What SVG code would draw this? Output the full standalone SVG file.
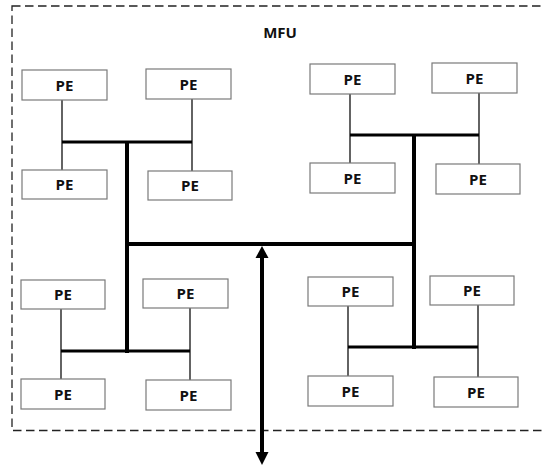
<svg xmlns="http://www.w3.org/2000/svg" width="542" height="466" viewBox="0 0 542 466">
<style>
.pe rect{fill:#fff;stroke:#7a7a7a;stroke-width:1.2}
.pe text{font-family:"Open Sans",Lato,"Liberation Sans",sans-serif;font-weight:700;font-size:15px;fill:#111;text-anchor:middle}
.thin{stroke:#111;stroke-width:1.3;fill:none}
.bus{stroke:#000;stroke-width:3;fill:none}
.trunk{stroke:#000;stroke-width:4;fill:none}
</style>
<rect width="542" height="466" fill="#fff"/>
<g id="mfu">
<rect x="12" y="6" width="540" height="424.5" fill="none" stroke="#222" stroke-width="1.3" stroke-dasharray="8.5 4.5"/>
<text x="280" y="37.5" font-family="'Open Sans',Lato,'Liberation Sans',sans-serif" font-weight="700" font-size="15" fill="#111" text-anchor="middle">MFU</text>
</g>
<g id="connectors">
<path class="thin" d="M62 100V170M192 99V171M350 94V163M479 93V164M61 309V379M190 308V380M348 306V376M478 305V377"/>
<path class="bus" d="M62 142H192M350 135H479M61 351H190M348 347H478"/>
<path class="trunk" d="M127 142V353M414 135V349M125 244H416"/>
<path class="trunk" d="M262 256V454"/>
<polygon points="262,246 268.5,258 255.5,258" fill="#000"/>
<polygon points="262,465 268.5,452 255.5,452" fill="#000"/>
</g>
<g id="pe1" class="pe"><rect x="22" y="70" width="85" height="30"/><text x="64.5" y="90.5">PE</text></g>
<g id="pe2" class="pe"><rect x="146" y="69" width="85" height="30"/><text x="188.5" y="89.5">PE</text></g>
<g id="pe3" class="pe"><rect x="22" y="170" width="85" height="29"/><text x="64.5" y="190">PE</text></g>
<g id="pe4" class="pe"><rect x="148" y="171" width="84" height="29"/><text x="190" y="191">PE</text></g>
<g id="pe5" class="pe"><rect x="310" y="64" width="85" height="30"/><text x="352.5" y="84.5">PE</text></g>
<g id="pe6" class="pe"><rect x="432" y="63" width="85" height="30"/><text x="474.5" y="83.5">PE</text></g>
<g id="pe7" class="pe"><rect x="310" y="163" width="85" height="30"/><text x="352.5" y="183.5">PE</text></g>
<g id="pe8" class="pe"><rect x="436" y="164" width="84" height="30"/><text x="478" y="184.5">PE</text></g>
<g id="pe9" class="pe"><rect x="21" y="280" width="84" height="29"/><text x="63" y="300">PE</text></g>
<g id="pe10" class="pe"><rect x="143" y="279" width="85" height="29"/><text x="185.5" y="299">PE</text></g>
<g id="pe11" class="pe"><rect x="21" y="379" width="84" height="30"/><text x="63" y="399.5">PE</text></g>
<g id="pe12" class="pe"><rect x="146" y="380" width="85" height="30"/><text x="188.5" y="400.5">PE</text></g>
<g id="pe13" class="pe"><rect x="308" y="277" width="85" height="29"/><text x="350.5" y="297">PE</text></g>
<g id="pe14" class="pe"><rect x="430" y="276" width="84" height="29"/><text x="472" y="296">PE</text></g>
<g id="pe15" class="pe"><rect x="308" y="376" width="85" height="30"/><text x="350.5" y="396.5">PE</text></g>
<g id="pe16" class="pe"><rect x="434" y="377" width="84" height="30"/><text x="476" y="397.5">PE</text></g>
</svg>
